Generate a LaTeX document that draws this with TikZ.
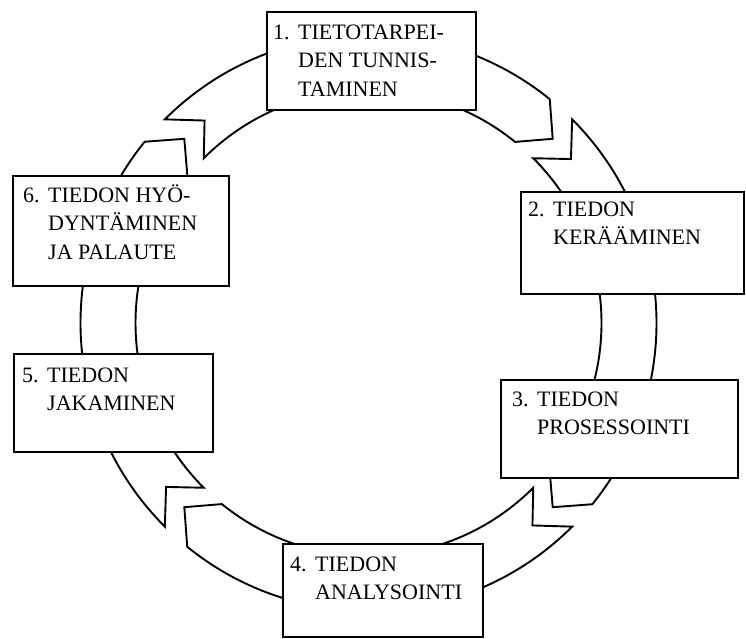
\documentclass[tikz,border=0pt]{standalone}
\usepackage{fontspec}
\setmainfont{Liberation Serif}
\newcommand\ringpiece[1]{%
  \draw[piece] (#1:288pt) arc[start angle=#1, end angle={#1-90+6}, radius=288pt]
    -- ({#1-90}:260.5pt) -- ({#1-90+6}:233pt)
    arc[start angle={#1-90+6}, end angle=#1, radius=233pt]
    -- ({#1-6}:260.5pt) -- cycle;}
\newcommand\steptext[2]{\begin{tabular}[t]{@{}p{25pt}@{}l@{}}#1 & #2\end{tabular}}
\begin{document}
\begin{tikzpicture}[x=1pt,y=1pt,
  piece/.style={draw=black, fill=white, line width=1.9pt, line join=miter},
  box/.style={draw=black, fill=white, line width=1.9pt, anchor=south west, inner sep=0pt, outer sep=0pt},
  lbl/.style={anchor=base west, inner sep=0pt, font=\fontsize{22}{28.5}\selectfont}]
\useasboundingbox (0,0) rectangle (746,639);
% ring of four notched arrows
\begin{scope}[shift={(368.5,316)}]
  \ringpiece{135}
  \ringpiece{45}
  \ringpiece{-45}
  \ringpiece{-135}
\end{scope}
% boxes
\node[box, minimum width=209pt, minimum height=98pt]  (b1) at (267,529) {};
\node[box, minimum width=223pt, minimum height=102pt] (b2) at (521,345) {};
\node[box, minimum width=237pt, minimum height=98pt]  (b3) at (501,161) {};
\node[box, minimum width=200pt, minimum height=93pt]  (b4) at (283,2) {};
\node[box, minimum width=199pt, minimum height=98pt]  (b5) at (14,187) {};
\node[box, minimum width=216pt, minimum height=110pt] (b6) at (13,353) {};
% texts
\node[lbl] (t1) at (273,599.5) {\steptext{1.}{TIETOTARPEI-\\ & DEN TUNNIS-\\ & TAMINEN}};
\node[lbl] (t2) at (528,422.5) {\steptext{2.}{TIEDON\\ & KERÄÄMINEN}};
\node[lbl] (t3) at (512,232.5) {\steptext{3.}{TIEDON\\ & PROSESSOINTI}};
\node[lbl] (t4) at (290,67.5)  {\steptext{4.}{TIEDON\\ & ANALYSOINTI}};
\node[lbl] (t5) at (22,256.5)  {\steptext{5.}{TIEDON\\ & JAKAMINEN}};
\node[lbl] (t6) at (23,436.5)  {\steptext{6.}{TIEDON HYÖ-\\ & DYNTÄMINEN\\ & JA PALAUTE}};
\end{tikzpicture}
\end{document}
